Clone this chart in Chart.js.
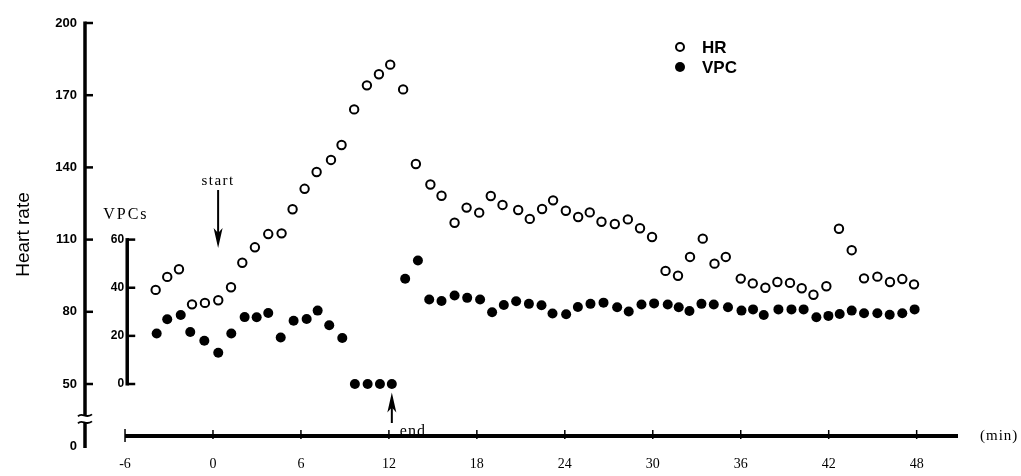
<!DOCTYPE html>
<html>
<head>
<meta charset="utf-8">
<script src="https://cdn.jsdelivr.net/npm/chart.js@4"></script>
<style>
  html, body { margin: 0; padding: 0; background: #fff; }
  #wrap { width: 1021px; height: 476px; position: relative; }
</style>
</head>
<body>
<div id="wrap"><canvas id="c"></canvas></div>
<script>
// minutes relative to start of exercise
const hrTime = [-3.91, -3.12, -2.32, -1.43, -0.55, 0.36, 1.23, 2.00, 2.86, 3.77, 4.68, 5.43, 6.25, 7.07, 8.05, 8.77,
  9.63, 10.50, 11.32, 12.09, 12.97, 13.84, 14.83, 15.59, 16.48, 17.30, 18.16, 18.95, 19.75, 20.82, 21.61, 22.45,
  23.20, 24.07, 24.91, 25.70, 26.50, 27.41, 28.30, 29.13, 29.95, 30.87, 31.72, 32.54, 33.41, 34.21, 34.98, 36.00,
  36.82, 37.68, 38.50, 39.36, 40.16, 40.96, 41.84, 42.70, 43.57, 44.41, 45.32, 46.18, 47.02, 47.82];
const hrRate = [89.1, 94.5, 97.7, 83.1, 83.7, 84.8, 90.2, 100.4, 106.8, 112.3, 112.6, 122.6, 131.1, 138.1, 143.1, 149.3,
  164.1, 174.1, 178.7, 182.7, 172.4, 141.4, 132.9, 128.2, 117.0, 123.3, 121.2, 128.1, 124.4, 122.3, 118.6, 122.7,
  126.3, 122.0, 119.4, 121.3, 117.4, 116.5, 118.4, 114.7, 111.1, 97.0, 95.0, 102.8, 110.4, 100.0, 102.8, 93.8,
  91.8, 90.0, 92.4, 92.0, 89.8, 87.1, 90.6, 114.5, 105.6, 93.9, 94.6, 92.4, 93.6, 91.4];

const vpcTime = [-3.84, -3.12, -2.20, -1.55, -0.59, 0.36, 1.25, 2.16, 2.98, 3.77, 4.62, 5.50, 6.39, 7.14, 7.93, 8.82,
  9.68, 10.55, 11.39, 12.20, 13.11, 13.98, 14.75, 15.59, 16.48, 17.34, 18.22, 19.04, 19.84, 20.68, 21.55, 22.41,
  23.16, 24.09, 24.89, 25.75, 26.64, 27.57, 28.36, 29.23, 30.09, 31.02, 31.77, 32.50, 33.32, 34.16, 35.13, 36.05,
  36.84, 37.57, 38.57, 39.46, 40.29, 41.16, 41.98, 42.75, 43.57, 44.41, 45.32, 46.16, 47.02, 47.86];
const vpcCount = [21.0, 26.9, 28.7, 21.6, 18.0, 13.0, 21.0, 27.8, 27.7, 29.5, 19.3, 26.3, 27.0, 30.5, 24.4, 19.1,
  0, 0, 0, 0, 43.7, 51.3, 35.1, 34.5, 36.8, 35.8, 35.1, 29.8, 32.8, 34.4, 33.3, 32.7,
  29.3, 29.0, 32.0, 33.3, 33.8, 31.9, 30.1, 33.0, 33.5, 33.0, 31.9, 30.3, 33.3, 33.0, 31.9, 30.5,
  31.0, 28.7, 31.0, 31.0, 31.0, 27.7, 28.3, 29.1, 30.5, 29.4, 29.4, 28.8, 29.4, 31.0];

const xTicks = [-6, 0, 6, 12, 18, 24, 30, 36, 42, 48];
const hrTicks = [50, 80, 110, 140, 170, 200];
const vpcTicks = [0, 20, 40, 60];

// axis is broken below 50: the "0" label sits at this plotted level
const hrZeroAt = 24.24;
const hrBreakAt = 35.5;
const vpcOffset = 50; // VPC axis shares the HR scale, shifted by 50

function line(ctx, x1, y1, x2, y2) {
  ctx.beginPath();
  ctx.moveTo(x1, y1);
  ctx.lineTo(x2, y2);
  ctx.stroke();
}

function arrowHead(ctx, x, y, dir) {
  // dir: 1 = pointing down, -1 = pointing up
  ctx.beginPath();
  ctx.moveTo(x, y);
  ctx.lineTo(x - 4.5, y - dir * 20);
  ctx.lineTo(x, y - dir * 15);
  ctx.lineTo(x + 4.5, y - dir * 20);
  ctx.closePath();
  ctx.fill();
}

const decor = {
  id: "decor",
  afterDraw(chart) {
    const { ctx, chartArea: ca } = chart;
    const { x, y, y2 } = chart.scales;
    ctx.save();
    ctx.strokeStyle = "#000";
    ctx.fillStyle = "#000";
    ctx.lineCap = "butt";

    // HR axis with break
    const ax = ca.left;
    const yb = y.getPixelForValue(hrBreakAt);
    ctx.lineWidth = 3.5;
    line(ctx, ax, y.getPixelForValue(200) - 1.5, ax, yb - 4);
    line(ctx, ax, yb + 4, ax, ca.bottom + 2);
    ctx.lineWidth = 2.5;
    hrTicks.forEach(v => {
      const p = y.getPixelForValue(v);
      line(ctx, ax, p, ax + 8, p);
    });
    ctx.lineWidth = 1.8;
    [-3.5, 3.5].forEach(d => {
      ctx.beginPath();
      ctx.moveTo(ax - 7, yb + d + 1);
      ctx.bezierCurveTo(ax - 3, yb + d - 4, ax + 1, yb + d + 4, ax + 7, yb + d - 1);
      ctx.stroke();
    });

    // VPC axis
    const vx = x.getPixelForValue(-5.85);
    ctx.lineWidth = 3.5;
    line(ctx, vx, y2.getPixelForValue(60) - 1.5, vx, y2.getPixelForValue(0) + 1.5);
    ctx.lineWidth = 2.5;
    ctx.font = "bold 12px 'Liberation Sans', Arial, sans-serif";
    ctx.textAlign = "right";
    ctx.textBaseline = "middle";
    vpcTicks.forEach(v => {
      const p = y2.getPixelForValue(v);
      line(ctx, vx, p, vx + 8, p);
      ctx.fillText(String(v), vx - 3, p);
    });
    ctx.font = "16px 'Liberation Serif', 'Times New Roman', serif";
    ctx.letterSpacing = "2px";
    ctx.textAlign = "left";
    ctx.fillText("VPCs", vx - 24, y2.getPixelForValue(60) - 25);

    // time axis
    const xa = ca.bottom - 10;
    const x0 = x.getPixelForValue(-6);
    ctx.lineWidth = 4;
    line(ctx, x0, xa, ca.right, xa);
    ctx.lineWidth = 1.5;
    line(ctx, x0, xa - 7, x0, xa + 6);
    xTicks.slice(1).forEach(v => {
      const p = x.getPixelForValue(v);
      line(ctx, p, xa - 6, p, xa + 3);
    });
    ctx.font = "15px 'Liberation Serif', 'Times New Roman', serif";
    ctx.letterSpacing = "1px";
    ctx.textBaseline = "middle";
    ctx.fillText("(min)", ca.right + 22, xa);

    // start arrow
    const sx = x.getPixelForValue(0.35);
    const sTop = y.getPixelForValue(130.6);
    const sBot = y.getPixelForValue(106.5);
    ctx.lineWidth = 2;
    line(ctx, sx, sTop, sx, sBot - 12);
    arrowHead(ctx, sx, sBot, 1);
    ctx.textAlign = "center";
    ctx.letterSpacing = "1.5px";
    ctx.fillText("start", sx, sTop - 9);

    // end arrow
    const ex = x.getPixelForValue(12.2);
    const eTop = y2.getPixelForValue(-3.5);
    ctx.lineWidth = 2;
    line(ctx, ex, eTop + 12, ex, xa - 13);
    arrowHead(ctx, ex, eTop, -1);
    ctx.textAlign = "left";
    ctx.letterSpacing = "1px";
    ctx.font = "16px 'Liberation Serif', 'Times New Roman', serif";
    ctx.fillText("end", ex + 8, xa - 4);

    // legend
    ctx.letterSpacing = "0px";
    ctx.font = "bold 17px 'Liberation Sans', Arial, sans-serif";
    ctx.lineWidth = 2;
    ctx.beginPath();
    ctx.arc(680, 47, 4, 0, Math.PI * 2);
    ctx.stroke();
    ctx.fillText("HR", 702, 48);
    ctx.beginPath();
    ctx.arc(680, 67, 5, 0, Math.PI * 2);
    ctx.fill();
    ctx.fillText("VPC", 702, 68);

    ctx.restore();
  }
};

new Chart(document.getElementById("c"), {
  type: "scatter",
  data: {
    datasets: [
      {
        label: "HR",
        data: hrTime.map((t, i) => ({ x: t, y: hrRate[i] })),
        yAxisID: "y",
        pointStyle: "circle",
        pointRadius: 4.2,
        pointBorderWidth: 2,
        pointBackgroundColor: "#fff",
        pointBorderColor: "#000"
      },
      {
        label: "VPC",
        data: vpcTime.map((t, i) => ({ x: t, y: vpcCount[i] })),
        yAxisID: "y2",
        pointStyle: "circle",
        pointRadius: 5,
        pointBorderWidth: 0,
        pointBackgroundColor: "#000",
        pointBorderColor: "#000"
      }
    ]
  },
  options: {
    responsive: true,
    maintainAspectRatio: false,
    animation: false,
    layout: { padding: { top: 23, right: 63, bottom: 0, left: 0 } },
    scales: {
      x: {
        type: "linear",
        min: -8.73,
        max: 50.82,
        grid: { display: false, drawTicks: false },
        border: { display: false },
        afterBuildTicks: s => { s.ticks = xTicks.map(v => ({ value: v })); },
        afterFit: s => { s.height = 30; },
        ticks: {
          autoSkip: false,
          maxRotation: 0,
          padding: 10,
          color: "#000",
          font: { family: "'Liberation Serif', 'Times New Roman', serif", size: 14 },
          callback: v => String(v)
        }
      },
      y: {
        type: "linear",
        position: "left",
        min: hrZeroAt,
        max: 200,
        grid: { display: false, drawTicks: false },
        border: { display: false },
        afterBuildTicks: s => { s.ticks = [hrZeroAt, ...hrTicks].map(v => ({ value: v })); },
        afterFit: s => { s.width = 85; },
        title: {
          display: true,
          text: "Heart rate",
          color: "#000",
          padding: { top: 12, bottom: 0 },
          font: { family: "'Liberation Sans', Arial, sans-serif", size: 19 }
        },
        ticks: {
          autoSkip: false,
          padding: 8,
          color: "#000",
          font: { family: "'Liberation Sans', Arial, sans-serif", size: 13, weight: "bold" },
          callback: v => (v === hrZeroAt ? "0" : String(v))
        }
      },
      y2: {
        type: "linear",
        display: false,
        min: hrZeroAt - vpcOffset,
        max: 200 - vpcOffset
      }
    },
    plugins: {
      legend: { display: false },
      tooltip: { enabled: false }
    }
  },
  plugins: [decor]
});
</script>
</body>
</html>
